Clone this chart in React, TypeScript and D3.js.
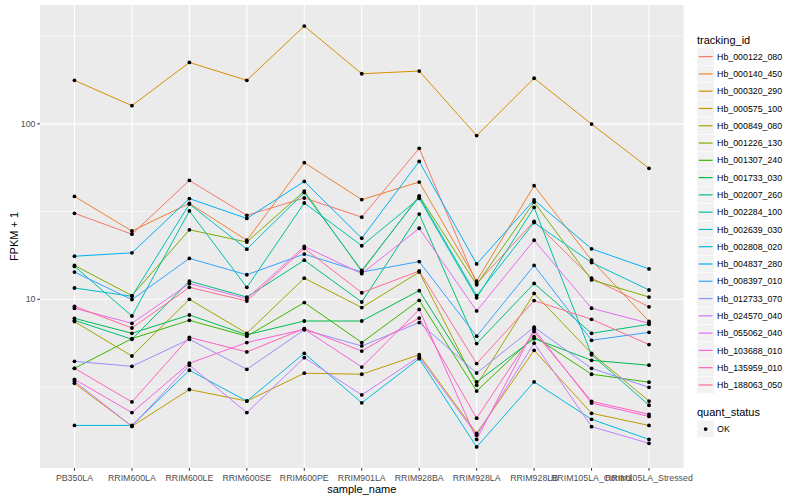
import React from 'react';
import * as d3 from 'd3';

const sampleNames = [
  'PB350LA', 'RRIM600LA', 'RRIM600LE', 'RRIM600SE', 'RRIM600PE', 'RRIM901LA',
  'RRIM928BA', 'RRIM928LA', 'RRIM928LB', 'RRIM105LA_Control', 'RRIM105LA_Stressed',
];

// FPKM + 1 per sample
const Hb_000122_080 = [30.9, 23.5, 47.6, 30.1, 37.8, 29.4, 72.5, 12.3, 27.8, 13.2, 9.06];
const Hb_000140_450 = [38.6, 24.5, 35.2, 21.7, 60.1, 37.0, 46.6, 12.7, 44.4, 16.7, 7.49];
const Hb_000320_290 = [177, 127, 224, 177, 361, 193, 200, 85.7, 182, 99.7, 55.8];
const Hb_000575_100 = [3.32, 1.89, 3.06, 2.63, 3.79, 3.74, 4.83, 1.72, 5.12, 2.24, 1.91];
const Hb_000849_080 = [7.46, 4.75, 10.0, 6.40, 13.2, 8.97, 14.3, 3.24, 10.8, 4.92, 2.63];
const Hb_001226_130 = [15.6, 10.5, 24.9, 21.2, 41.4, 14.4, 38.9, 12.1, 35.8, 12.9, 10.3];
const Hb_001307_240 = [4.04, 5.97, 7.59, 6.16, 9.58, 5.67, 9.87, 3.00, 6.13, 3.74, 3.37];
const Hb_001733_030 = [7.79, 6.40, 8.14, 6.28, 7.52, 7.52, 11.2, 3.38, 5.97, 4.49, 4.21];
const Hb_002007_260 = [7.59, 5.92, 12.7, 10.3, 16.7, 9.65, 30.6, 5.59, 12.3, 6.40, 7.20];
const Hb_002284_100 = [15.4, 8.03, 31.9, 11.7, 35.4, 20.2, 37.6, 10.2, 33.4, 4.83, 2.49];
const Hb_002639_030 = [11.6, 10.4, 34.9, 19.3, 40.6, 14.6, 38.4, 10.5, 27.4, 16.2, 11.3];
const Hb_002808_020 = [1.91, 1.91, 3.94, 2.63, 4.92, 2.57, 4.59, 1.44, 3.38, 2.07, 1.59];
const Hb_004837_280 = [17.6, 18.4, 37.5, 28.9, 47.0, 22.3, 61.1, 15.9, 36.8, 19.4, 14.9];
const Hb_008397_010 = [14.3, 9.96, 17.1, 13.8, 18.1, 14.3, 16.4, 6.16, 15.6, 5.84, 6.48];
const Hb_012733_070 = [4.43, 4.15, 5.92, 3.99, 6.70, 5.42, 7.37, 3.80, 6.93, 4.04, 3.15];
const Hb_024570_040 = [3.41, 1.89, 4.21, 2.26, 4.65, 2.85, 4.70, 1.68, 5.62, 1.88, 1.51];
const Hb_055062_040 = [8.89, 7.30, 12.3, 10.1, 20.0, 14.0, 25.4, 8.58, 21.7, 8.89, 7.30];
const Hb_103688_010 = [3.50, 2.26, 4.32, 5.67, 6.75, 4.11, 8.75, 1.59, 6.75, 2.56, 2.15];
const Hb_135959_010 = [4.04, 2.60, 6.07, 5.01, 6.81, 5.07, 7.82, 2.10, 6.55, 2.62, 2.21];
const Hb_188063_050 = [9.12, 6.86, 11.7, 9.78, 19.5, 10.9, 14.5, 4.30, 9.83, 7.69, 5.52];

const series = [
  { id: 'Hb_000122_080', values: Hb_000122_080 },
  { id: 'Hb_000140_450', values: Hb_000140_450 },
  { id: 'Hb_000320_290', values: Hb_000320_290 },
  { id: 'Hb_000575_100', values: Hb_000575_100 },
  { id: 'Hb_000849_080', values: Hb_000849_080 },
  { id: 'Hb_001226_130', values: Hb_001226_130 },
  { id: 'Hb_001307_240', values: Hb_001307_240 },
  { id: 'Hb_001733_030', values: Hb_001733_030 },
  { id: 'Hb_002007_260', values: Hb_002007_260 },
  { id: 'Hb_002284_100', values: Hb_002284_100 },
  { id: 'Hb_002639_030', values: Hb_002639_030 },
  { id: 'Hb_002808_020', values: Hb_002808_020 },
  { id: 'Hb_004837_280', values: Hb_004837_280 },
  { id: 'Hb_008397_010', values: Hb_008397_010 },
  { id: 'Hb_012733_070', values: Hb_012733_070 },
  { id: 'Hb_024570_040', values: Hb_024570_040 },
  { id: 'Hb_055062_040', values: Hb_055062_040 },
  { id: 'Hb_103688_010', values: Hb_103688_010 },
  { id: 'Hb_135959_010', values: Hb_135959_010 },
  { id: 'Hb_188063_050', values: Hb_188063_050 },
];

// ggplot default hue palette, 20 levels
const palette = [
  '#F8766D', '#EA8331', '#D89000', '#C09B00', '#A3A500', '#7CAE00', '#39B600',
  '#00BB4E', '#00BF7D', '#00C1A3', '#00BFC4', '#00BAE0', '#00B0F6', '#35A2FF',
  '#9590FF', '#C77CFF', '#E76BF3', '#FA62DB', '#FF62BC', '#FF6C91',
];

const quantStatus = ['OK'];

const font = '"Liberation Sans", Arial, Helvetica, sans-serif';
const panel = { left: 40, right: 683.5, top: 5, bottom: 468 };

export default function App() {
  const x = d3.scalePoint<string>()
    .domain(sampleNames)
    .range([panel.left, panel.right])
    .padding(0.6);

  // log scale with ggplot's 5% expansion in transformed space
  const all = series.flatMap(s => s.values);
  const [lo, hi] = d3.extent(all) as [number, number];
  const l0 = Math.log10(lo), l1 = Math.log10(hi);
  const pad = (l1 - l0) * 0.05;
  const y = d3.scaleLog()
    .domain([10 ** (l0 - pad), 10 ** (l1 + pad)])
    .range([panel.bottom, panel.top]);

  const [d0, d1] = y.domain();
  const majors = [1, 10, 100, 1000].filter(v => v >= d0 && v <= d1);
  const minors = [1, 10, 100, 1000].map(v => v * Math.sqrt(10)).filter(v => v >= d0 && v <= d1);

  const line = d3.line<number>()
    .x((_, i) => x(sampleNames[i]) as number)
    .y(d => y(d));

  const keySize = 17.28;
  const legendX = 697;
  const legendTop = 48;

  return (
    <svg width={800} height={500} style={{ position: 'absolute', left: 0, top: 0, background: '#fff' }}>
      <rect x={panel.left} y={panel.top} width={panel.right - panel.left} height={panel.bottom - panel.top} fill="#EBEBEB" />

      {/* grid */}
      {minors.map(v => (
        <line key={'mn' + v} x1={panel.left} x2={panel.right} y1={y(v)} y2={y(v)} stroke="#fff" strokeWidth={0.55} />
      ))}
      {majors.map(v => (
        <line key={'mj' + v} x1={panel.left} x2={panel.right} y1={y(v)} y2={y(v)} stroke="#fff" strokeWidth={1.1} />
      ))}
      {sampleNames.map(s => (
        <line key={'vx' + s} x1={x(s)} x2={x(s)} y1={panel.top} y2={panel.bottom} stroke="#fff" strokeWidth={1.1} />
      ))}

      {/* lines */}
      {series.map((s, i) => (
        <path key={s.id} d={line(s.values) || ''} fill="none" stroke={palette[i]} strokeWidth={1} />
      ))}

      {/* points */}
      {series.map(s => s.values.map((v, j) => (
        <circle key={s.id + j} cx={x(sampleNames[j])} cy={y(v)} r={1.9} fill="#000" />
      )))}

      {/* y axis */}
      {majors.map(v => (
        <g key={'yt' + v}>
          <line x1={panel.left - 2.75} x2={panel.left} y1={y(v)} y2={y(v)} stroke="#333" strokeWidth={1} />
          <text x={panel.left - 4.5} y={y(v) + 3.1} textAnchor="end" fontFamily={font} fontSize={8.8} fill="#4D4D4D">
            {d3.format('d')(v)}
          </text>
        </g>
      ))}
      <text transform={`translate(17.5,${(panel.top + panel.bottom) / 2}) rotate(-90)`} textAnchor="middle"
        fontFamily={font} fontSize={11} fill="#000">FPKM + 1</text>

      {/* x axis */}
      {sampleNames.map(s => (
        <g key={'xt' + s}>
          <line x1={x(s)} x2={x(s)} y1={panel.bottom} y2={panel.bottom + 2.75} stroke="#333" strokeWidth={1} />
          <text x={x(s)} y={480.5} textAnchor="middle" fontFamily={font} fontSize={8.8} fill="#4D4D4D">{s}</text>
        </g>
      ))}
      <text x={(panel.left + panel.right) / 2} y={493} textAnchor="middle" fontFamily={font} fontSize={11} fill="#000">
        sample_name
      </text>

      {/* legend: tracking_id */}
      <text x={legendX} y={43.5} fontFamily={font} fontSize={11} fill="#000">tracking_id</text>
      {series.map((s, i) => {
        const top = legendTop + i * keySize;
        return (
          <g key={'lg' + s.id}>
            <rect x={legendX} y={top} width={keySize} height={keySize} fill="#F2F2F2" stroke="#fff" strokeWidth={0.6} />
            <line x1={legendX + 1.7} x2={legendX + keySize - 1.7} y1={top + keySize / 2} y2={top + keySize / 2}
              stroke={palette[i]} strokeWidth={1.2} />
            <text x={legendX + keySize + 2.8} y={top + keySize / 2 + 3.1} fontFamily={font} fontSize={8.8} fill="#000">
              {s.id}
            </text>
          </g>
        );
      })}

      {/* legend: quant_status */}
      <text x={legendX} y={415.5} fontFamily={font} fontSize={11} fill="#000">quant_status</text>
      {quantStatus.map((q, i) => {
        const top = 420.4 + i * keySize;
        return (
          <g key={'qs' + q}>
            <rect x={legendX} y={top} width={keySize} height={keySize} fill="#F2F2F2" stroke="#fff" strokeWidth={0.6} />
            <circle cx={legendX + keySize / 2} cy={top + keySize / 2} r={1.9} fill="#000" />
            <text x={legendX + keySize + 2.8} y={top + keySize / 2 + 3.1} fontFamily={font} fontSize={8.8} fill="#000">
              {q}
            </text>
          </g>
        );
      })}
    </svg>
  );
}
